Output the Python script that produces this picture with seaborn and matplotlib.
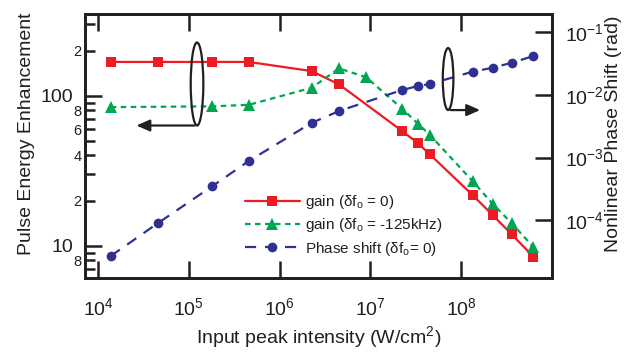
import numpy as np
import pandas as pd
import seaborn as sns
import matplotlib
matplotlib.use('Agg')
import matplotlib.pyplot as plt
from matplotlib.patches import Ellipse, FancyArrowPatch
from matplotlib.ticker import FixedLocator, FuncFormatter, NullLocator, LogLocator

# Datos
intensidad = [1.38e4, 4.54e4, 1.82e5, 4.57e5, 2.25e6, 4.51e6, 2.23e7,
              3.34e7, 4.48e7, 1.33e8, 2.22e8, 3.60e8, 6.22e8]
ganancia_0 = [168, 168, 168, 168, 146, 119, 58.2, 48.2, 40.8, 21.8, 16.0, 11.9, 8.45]

intensidad_125 = [1.38e4, 1.82e5, 4.57e5, 2.25e6, 4.51e6, 8.95e6, 2.23e7,
                  3.34e7, 4.48e7, 1.33e8, 2.22e8, 3.60e8, 6.22e8]
ganancia_125 = [84, 85, 87, 113, 152, 133, 82, 65, 55, 27, 19, 14.1, 9.8]

fase = [2.67e-5, 8.9e-5, 3.5e-4, 8.8e-4, 3.58e-3, 5.53e-3, 1.2e-2,
        1.39e-2, 1.49e-2, 2.35e-2, 2.72e-2, 3.27e-2, 4.18e-2]

ticks_x = [1e4, 1e5, 1e6, 1e7, 1e8]

etiquetas = ['gain (δf$_\\mathregular{o}$ = 0)',
             'gain (δf$_\\mathregular{o}$ = -125kHz)',
             'Phase shift (δf$_\\mathregular{o}$= 0)']

rojo, verde, azul = '#ed1c24', '#00a651', '#2e3192'
negro = '#231f20'

sns.set_style('ticks')
plt.rcParams['font.family'] = ['Liberation Sans', 'DejaVu Sans']
plt.rcParams['mathtext.fontset'] = 'custom'
plt.rcParams['mathtext.rm'] = 'Liberation Sans'

fig = plt.figure(figsize=(6.26, 3.54), dpi=100)
ax = fig.add_axes([0.135, 0.2147, 0.747, 0.747])
ax2 = ax.twinx()

sns.lineplot(x=intensidad, y=ganancia_0, ax=ax, color=rojo, marker='s',
             markersize=7, markeredgewidth=0, linewidth=1.6, label=etiquetas[0], legend=False)
sns.lineplot(x=intensidad_125, y=ganancia_125, ax=ax, color=verde, marker='^',
             markersize=8, markeredgewidth=0, linewidth=1.6, linestyle=(0, (2.5, 2)),
             label=etiquetas[1], legend=False)
sns.lineplot(x=intensidad, y=fase, ax=ax2, color=azul, marker='o',
             markersize=7, markeredgewidth=0, linewidth=1.6, linestyle=(0, (5, 4)),
             label=etiquetas[2], legend=False)

ax.set_xscale('log')
ax.set_yscale('log')
ax2.set_yscale('log')
ax.set_xlim(7.1e3, 1.0e9)
ax.set_ylim(6.1, 353)
ax2.set_ylim(1.19e-5, 0.1996)

# ejes y ticks
for a in (ax, ax2):
    for s in a.spines.values():
        s.set_linewidth(2)
        s.set_color(negro)

ax.xaxis.set_major_locator(FixedLocator(ticks_x))
ax.xaxis.set_minor_locator(NullLocator())
ax.tick_params(axis='x', which='major', direction='in', length=12, width=1.8,
               top=True, bottom=True, labelsize=14, pad=14, colors=negro)

ax.yaxis.set_major_locator(FixedLocator([10, 100]))
ax.yaxis.set_minor_locator(FixedLocator([m * d for d in (1, 10, 100) for m in range(2, 10)]))
ax.yaxis.set_major_formatter(FuncFormatter(lambda v, p: f'{v:g}'))
ax.yaxis.set_minor_formatter(FuncFormatter(
    lambda v, p: str(int(round(v / 10 ** np.floor(np.log10(v) + 1e-9))))
    if int(round(v / 10 ** np.floor(np.log10(v) + 1e-9))) in (2, 4, 6, 8) else ''))
ax.tick_params(axis='y', which='major', direction='in', length=12, width=1.8,
               labelsize=14, pad=8, right=False, colors=negro)
ax.tick_params(axis='y', which='minor', direction='in', length=7, width=1.8,
               labelsize=10.5, pad=2, right=False, colors=negro)

ax2.yaxis.set_major_locator(LogLocator(base=10, numticks=10))
ax2.yaxis.set_minor_locator(NullLocator())
ax2.tick_params(axis='y', which='major', direction='in', length=12, width=1.8,
                labelsize=14, pad=9, colors=negro)

ax.set_xlabel('Input peak intensity (W/cm$^2$)', fontsize=14, labelpad=4, color=negro)
ax.set_ylabel('Pulse Energy Enhancement', fontsize=14, labelpad=4, color=negro)
ax2.set_ylabel('Nonlinear Phase Shift (rad)', fontsize=14, labelpad=1, color=negro)
ax.yaxis.label.set_y(0.545)
ax2.yaxis.label.set_y(0.545)

# elipses y flechas
ax2.add_patch(Ellipse((0.2406, 0.7335), 0.027, 0.314, transform=ax2.transAxes,
                      fill=False, edgecolor=negro, linewidth=1.6, zorder=5))
ax2.add_patch(FancyArrowPatch((0.2406, 0.5766), (0.105, 0.5766), transform=ax2.transAxes,
                              arrowstyle='-|>,head_length=0.8,head_width=0.35',
                              mutation_scale=10, color=negro, linewidth=1.6, zorder=5))
ax2.add_patch(Ellipse((0.7775, 0.7524), 0.0227, 0.2344, transform=ax2.transAxes,
                      fill=False, edgecolor=negro, linewidth=1.6, zorder=5))
ax2.add_patch(FancyArrowPatch((0.7775, 0.635), (0.852, 0.635), transform=ax2.transAxes,
                              arrowstyle='-|>,head_length=0.8,head_width=0.35',
                              mutation_scale=10, color=negro, linewidth=1.6, zorder=5))

# leyenda
h1, l1 = ax.get_legend_handles_labels()
h2, l2 = ax2.get_legend_handles_labels()
ax2.legend(h1 + h2, l1 + l2, loc='upper left', bbox_to_anchor=(0.33, 0.344),
           frameon=False, fontsize=11, handlelength=3.6, handletextpad=0.3,
           labelspacing=0.35, borderaxespad=0, labelcolor=negro)

fig.savefig('out.png', dpi=100)
